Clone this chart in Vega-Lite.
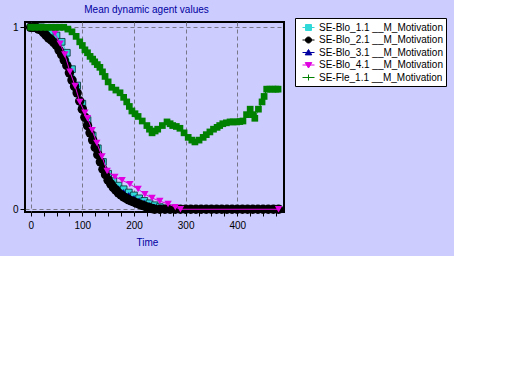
{
  "$schema": "https://vega.github.io/schema/vega-lite/v6.json",
  "autosize": "none",
  "width": 259,
  "height": 190,
  "padding": {"left": 25, "top": 22, "right": 170, "bottom": 44},
  "background": "#ccccff",
  "config": {
    "view": {"fill": "#ccccff", "stroke": "black", "strokeWidth": 2},
    "font": "Liberation Sans",
    "legend": {
      "title": null,
      "orient": "none",
      "legendX": 270,
      "legendY": -4,
      "fillColor": "white",
      "strokeColor": "black",
      "padding": 3,
      "symbolSize": 144,
      "symbolOffset": 4,
      "symbolStrokeWidth": 1,
      "labelOffset": 4,
      "labelFont": "Liberation Sans",
      "labelFontSize": 10,
      "labelColor": "black",
      "labelLimit": 200,
      "rowPadding": 0.5
    }
  },
  "title": {
    "text": "Mean dynamic agent values",
    "color": "#0000a0",
    "font": "Liberation Sans",
    "fontSize": 10,
    "fontWeight": "normal",
    "anchor": "middle",
    "dx": -8,
    "offset": 3
  },
  "data": {
    "values": [
      {"series": "SE-Blo_1.1 __M_Motivation", "t": 0, "v": 1},
      {"series": "SE-Blo_1.1 __M_Motivation", "t": 10, "v": 1},
      {"series": "SE-Blo_1.1 __M_Motivation", "t": 20, "v": 1},
      {"series": "SE-Blo_1.1 __M_Motivation", "t": 30, "v": 0.99},
      {"series": "SE-Blo_1.1 __M_Motivation", "t": 40, "v": 0.975},
      {"series": "SE-Blo_1.1 __M_Motivation", "t": 50, "v": 0.955},
      {"series": "SE-Blo_1.1 __M_Motivation", "t": 60, "v": 0.92},
      {"series": "SE-Blo_1.1 __M_Motivation", "t": 70, "v": 0.86},
      {"series": "SE-Blo_1.1 __M_Motivation", "t": 80, "v": 0.77},
      {"series": "SE-Blo_1.1 __M_Motivation", "t": 90, "v": 0.68},
      {"series": "SE-Blo_1.1 __M_Motivation", "t": 100, "v": 0.58},
      {"series": "SE-Blo_1.1 __M_Motivation", "t": 110, "v": 0.49},
      {"series": "SE-Blo_1.1 __M_Motivation", "t": 120, "v": 0.405},
      {"series": "SE-Blo_1.1 __M_Motivation", "t": 130, "v": 0.335},
      {"series": "SE-Blo_1.1 __M_Motivation", "t": 140, "v": 0.26},
      {"series": "SE-Blo_1.1 __M_Motivation", "t": 150, "v": 0.195},
      {"series": "SE-Blo_1.1 __M_Motivation", "t": 160, "v": 0.155},
      {"series": "SE-Blo_1.1 __M_Motivation", "t": 170, "v": 0.13},
      {"series": "SE-Blo_1.1 __M_Motivation", "t": 180, "v": 0.11},
      {"series": "SE-Blo_1.1 __M_Motivation", "t": 190, "v": 0.092},
      {"series": "SE-Blo_1.1 __M_Motivation", "t": 200, "v": 0.076},
      {"series": "SE-Blo_1.1 __M_Motivation", "t": 210, "v": 0.06},
      {"series": "SE-Blo_1.1 __M_Motivation", "t": 220, "v": 0.046},
      {"series": "SE-Blo_1.1 __M_Motivation", "t": 230, "v": 0.033},
      {"series": "SE-Blo_1.1 __M_Motivation", "t": 240, "v": 0.022},
      {"series": "SE-Blo_1.1 __M_Motivation", "t": 250, "v": 0.012},
      {"series": "SE-Blo_1.1 __M_Motivation", "t": 260, "v": 0.004},
      {"series": "SE-Blo_1.1 __M_Motivation", "t": 270, "v": 0},
      {"series": "SE-Blo_1.1 __M_Motivation", "t": 480, "v": 0},

      {"series": "SE-Blo_2.1 __M_Motivation", "t": 0, "v": 1},
      {"series": "SE-Blo_2.1 __M_Motivation", "t": 5, "v": 1},
      {"series": "SE-Blo_2.1 __M_Motivation", "t": 10, "v": 1},
      {"series": "SE-Blo_2.1 __M_Motivation", "t": 15, "v": 0.99},
      {"series": "SE-Blo_2.1 __M_Motivation", "t": 20, "v": 0.985},
      {"series": "SE-Blo_2.1 __M_Motivation", "t": 25, "v": 0.97},
      {"series": "SE-Blo_2.1 __M_Motivation", "t": 30, "v": 0.955},
      {"series": "SE-Blo_2.1 __M_Motivation", "t": 35, "v": 0.94},
      {"series": "SE-Blo_2.1 __M_Motivation", "t": 40, "v": 0.93},
      {"series": "SE-Blo_2.1 __M_Motivation", "t": 45, "v": 0.915},
      {"series": "SE-Blo_2.1 __M_Motivation", "t": 50, "v": 0.9},
      {"series": "SE-Blo_2.1 __M_Motivation", "t": 55, "v": 0.875},
      {"series": "SE-Blo_2.1 __M_Motivation", "t": 60, "v": 0.85},
      {"series": "SE-Blo_2.1 __M_Motivation", "t": 65, "v": 0.82},
      {"series": "SE-Blo_2.1 __M_Motivation", "t": 70, "v": 0.79},
      {"series": "SE-Blo_2.1 __M_Motivation", "t": 75, "v": 0.75},
      {"series": "SE-Blo_2.1 __M_Motivation", "t": 80, "v": 0.71},
      {"series": "SE-Blo_2.1 __M_Motivation", "t": 85, "v": 0.675},
      {"series": "SE-Blo_2.1 __M_Motivation", "t": 90, "v": 0.64},
      {"series": "SE-Blo_2.1 __M_Motivation", "t": 95, "v": 0.595},
      {"series": "SE-Blo_2.1 __M_Motivation", "t": 100, "v": 0.55},
      {"series": "SE-Blo_2.1 __M_Motivation", "t": 105, "v": 0.505},
      {"series": "SE-Blo_2.1 __M_Motivation", "t": 110, "v": 0.46},
      {"series": "SE-Blo_2.1 __M_Motivation", "t": 115, "v": 0.42},
      {"series": "SE-Blo_2.1 __M_Motivation", "t": 120, "v": 0.38},
      {"series": "SE-Blo_2.1 __M_Motivation", "t": 125, "v": 0.34},
      {"series": "SE-Blo_2.1 __M_Motivation", "t": 130, "v": 0.3},
      {"series": "SE-Blo_2.1 __M_Motivation", "t": 135, "v": 0.26},
      {"series": "SE-Blo_2.1 __M_Motivation", "t": 140, "v": 0.22},
      {"series": "SE-Blo_2.1 __M_Motivation", "t": 145, "v": 0.19},
      {"series": "SE-Blo_2.1 __M_Motivation", "t": 150, "v": 0.16},
      {"series": "SE-Blo_2.1 __M_Motivation", "t": 155, "v": 0.14},
      {"series": "SE-Blo_2.1 __M_Motivation", "t": 160, "v": 0.12},
      {"series": "SE-Blo_2.1 __M_Motivation", "t": 165, "v": 0.105},
      {"series": "SE-Blo_2.1 __M_Motivation", "t": 170, "v": 0.09},
      {"series": "SE-Blo_2.1 __M_Motivation", "t": 175, "v": 0.079},
      {"series": "SE-Blo_2.1 __M_Motivation", "t": 180, "v": 0.068},
      {"series": "SE-Blo_2.1 __M_Motivation", "t": 185, "v": 0.06},
      {"series": "SE-Blo_2.1 __M_Motivation", "t": 190, "v": 0.052},
      {"series": "SE-Blo_2.1 __M_Motivation", "t": 195, "v": 0.046},
      {"series": "SE-Blo_2.1 __M_Motivation", "t": 200, "v": 0.04},
      {"series": "SE-Blo_2.1 __M_Motivation", "t": 205, "v": 0.034},
      {"series": "SE-Blo_2.1 __M_Motivation", "t": 210, "v": 0.028},
      {"series": "SE-Blo_2.1 __M_Motivation", "t": 215, "v": 0.023},
      {"series": "SE-Blo_2.1 __M_Motivation", "t": 220, "v": 0.018},
      {"series": "SE-Blo_2.1 __M_Motivation", "t": 225, "v": 0.013},
      {"series": "SE-Blo_2.1 __M_Motivation", "t": 230, "v": 0.008},
      {"series": "SE-Blo_2.1 __M_Motivation", "t": 235, "v": 0.004},
      {"series": "SE-Blo_2.1 __M_Motivation", "t": 240, "v": 0},
      {"series": "SE-Blo_2.1 __M_Motivation", "t": 250, "v": 0},
      {"series": "SE-Blo_2.1 __M_Motivation", "t": 260, "v": 0},
      {"series": "SE-Blo_2.1 __M_Motivation", "t": 270, "v": 0},
      {"series": "SE-Blo_2.1 __M_Motivation", "t": 280, "v": 0},
      {"series": "SE-Blo_2.1 __M_Motivation", "t": 290, "v": 0},
      {"series": "SE-Blo_2.1 __M_Motivation", "t": 300, "v": 0},
      {"series": "SE-Blo_2.1 __M_Motivation", "t": 310, "v": 0},
      {"series": "SE-Blo_2.1 __M_Motivation", "t": 320, "v": 0},
      {"series": "SE-Blo_2.1 __M_Motivation", "t": 330, "v": 0},
      {"series": "SE-Blo_2.1 __M_Motivation", "t": 340, "v": 0},
      {"series": "SE-Blo_2.1 __M_Motivation", "t": 350, "v": 0},
      {"series": "SE-Blo_2.1 __M_Motivation", "t": 360, "v": 0},
      {"series": "SE-Blo_2.1 __M_Motivation", "t": 370, "v": 0},
      {"series": "SE-Blo_2.1 __M_Motivation", "t": 380, "v": 0},
      {"series": "SE-Blo_2.1 __M_Motivation", "t": 390, "v": 0},
      {"series": "SE-Blo_2.1 __M_Motivation", "t": 400, "v": 0},
      {"series": "SE-Blo_2.1 __M_Motivation", "t": 410, "v": 0},
      {"series": "SE-Blo_2.1 __M_Motivation", "t": 420, "v": 0},
      {"series": "SE-Blo_2.1 __M_Motivation", "t": 430, "v": 0},
      {"series": "SE-Blo_2.1 __M_Motivation", "t": 440, "v": 0},
      {"series": "SE-Blo_2.1 __M_Motivation", "t": 450, "v": 0},
      {"series": "SE-Blo_2.1 __M_Motivation", "t": 460, "v": 0},
      {"series": "SE-Blo_2.1 __M_Motivation", "t": 470, "v": 0},
      {"series": "SE-Blo_2.1 __M_Motivation", "t": 480, "v": 0},

      {"series": "SE-Blo_3.1 __M_Motivation", "t": 0, "v": 1},
      {"series": "SE-Blo_3.1 __M_Motivation", "t": 10, "v": 1},
      {"series": "SE-Blo_3.1 __M_Motivation", "t": 20, "v": 0.99},
      {"series": "SE-Blo_3.1 __M_Motivation", "t": 30, "v": 0.97},
      {"series": "SE-Blo_3.1 __M_Motivation", "t": 40, "v": 0.945},
      {"series": "SE-Blo_3.1 __M_Motivation", "t": 50, "v": 0.91},
      {"series": "SE-Blo_3.1 __M_Motivation", "t": 60, "v": 0.865},
      {"series": "SE-Blo_3.1 __M_Motivation", "t": 70, "v": 0.8},
      {"series": "SE-Blo_3.1 __M_Motivation", "t": 80, "v": 0.72},
      {"series": "SE-Blo_3.1 __M_Motivation", "t": 90, "v": 0.645},
      {"series": "SE-Blo_3.1 __M_Motivation", "t": 100, "v": 0.56},
      {"series": "SE-Blo_3.1 __M_Motivation", "t": 110, "v": 0.475},
      {"series": "SE-Blo_3.1 __M_Motivation", "t": 120, "v": 0.395},
      {"series": "SE-Blo_3.1 __M_Motivation", "t": 130, "v": 0.315},
      {"series": "SE-Blo_3.1 __M_Motivation", "t": 140, "v": 0.24},
      {"series": "SE-Blo_3.1 __M_Motivation", "t": 150, "v": 0.175},
      {"series": "SE-Blo_3.1 __M_Motivation", "t": 160, "v": 0.14},
      {"series": "SE-Blo_3.1 __M_Motivation", "t": 170, "v": 0.115},
      {"series": "SE-Blo_3.1 __M_Motivation", "t": 180, "v": 0.095},
      {"series": "SE-Blo_3.1 __M_Motivation", "t": 190, "v": 0.078},
      {"series": "SE-Blo_3.1 __M_Motivation", "t": 200, "v": 0.062},
      {"series": "SE-Blo_3.1 __M_Motivation", "t": 210, "v": 0.048},
      {"series": "SE-Blo_3.1 __M_Motivation", "t": 220, "v": 0.035},
      {"series": "SE-Blo_3.1 __M_Motivation", "t": 230, "v": 0.023},
      {"series": "SE-Blo_3.1 __M_Motivation", "t": 240, "v": 0.013},
      {"series": "SE-Blo_3.1 __M_Motivation", "t": 250, "v": 0.005},
      {"series": "SE-Blo_3.1 __M_Motivation", "t": 260, "v": 0},
      {"series": "SE-Blo_3.1 __M_Motivation", "t": 480, "v": 0},

      {"series": "SE-Blo_4.1 __M_Motivation", "t": 43, "v": 0.99},
      {"series": "SE-Blo_4.1 __M_Motivation", "t": 47, "v": 0.967},
      {"series": "SE-Blo_4.1 __M_Motivation", "t": 57, "v": 0.91},
      {"series": "SE-Blo_4.1 __M_Motivation", "t": 66, "v": 0.85},
      {"series": "SE-Blo_4.1 __M_Motivation", "t": 76, "v": 0.756},
      {"series": "SE-Blo_4.1 __M_Motivation", "t": 86, "v": 0.677},
      {"series": "SE-Blo_4.1 __M_Motivation", "t": 95, "v": 0.59},
      {"series": "SE-Blo_4.1 __M_Motivation", "t": 105, "v": 0.53},
      {"series": "SE-Blo_4.1 __M_Motivation", "t": 110, "v": 0.5},
      {"series": "SE-Blo_4.1 __M_Motivation", "t": 119, "v": 0.435},
      {"series": "SE-Blo_4.1 __M_Motivation", "t": 128, "v": 0.365},
      {"series": "SE-Blo_4.1 __M_Motivation", "t": 138, "v": 0.29},
      {"series": "SE-Blo_4.1 __M_Motivation", "t": 148, "v": 0.21},
      {"series": "SE-Blo_4.1 __M_Motivation", "t": 163, "v": 0.178},
      {"series": "SE-Blo_4.1 __M_Motivation", "t": 177, "v": 0.16},
      {"series": "SE-Blo_4.1 __M_Motivation", "t": 192, "v": 0.138},
      {"series": "SE-Blo_4.1 __M_Motivation", "t": 208, "v": 0.111},
      {"series": "SE-Blo_4.1 __M_Motivation", "t": 221, "v": 0.083},
      {"series": "SE-Blo_4.1 __M_Motivation", "t": 235, "v": 0.062},
      {"series": "SE-Blo_4.1 __M_Motivation", "t": 250, "v": 0.045},
      {"series": "SE-Blo_4.1 __M_Motivation", "t": 266, "v": 0.029},
      {"series": "SE-Blo_4.1 __M_Motivation", "t": 280, "v": 0.012},
      {"series": "SE-Blo_4.1 __M_Motivation", "t": 290, "v": 0},
      {"series": "SE-Blo_4.1 __M_Motivation", "t": 480, "v": 0},

      {"series": "SE-Fle_1.1 __M_Motivation", "t": 0, "v": 1},
      {"series": "SE-Fle_1.1 __M_Motivation", "t": 8, "v": 1},
      {"series": "SE-Fle_1.1 __M_Motivation", "t": 16, "v": 1},
      {"series": "SE-Fle_1.1 __M_Motivation", "t": 24, "v": 1},
      {"series": "SE-Fle_1.1 __M_Motivation", "t": 32, "v": 1},
      {"series": "SE-Fle_1.1 __M_Motivation", "t": 40, "v": 1},
      {"series": "SE-Fle_1.1 __M_Motivation", "t": 48, "v": 1},
      {"series": "SE-Fle_1.1 __M_Motivation", "t": 56, "v": 1},
      {"series": "SE-Fle_1.1 __M_Motivation", "t": 64, "v": 1},
      {"series": "SE-Fle_1.1 __M_Motivation", "t": 72, "v": 0.99},
      {"series": "SE-Fle_1.1 __M_Motivation", "t": 80, "v": 0.975},
      {"series": "SE-Fle_1.1 __M_Motivation", "t": 88, "v": 0.95},
      {"series": "SE-Fle_1.1 __M_Motivation", "t": 95, "v": 0.92},
      {"series": "SE-Fle_1.1 __M_Motivation", "t": 100, "v": 0.9},
      {"series": "SE-Fle_1.1 __M_Motivation", "t": 105, "v": 0.876},
      {"series": "SE-Fle_1.1 __M_Motivation", "t": 110, "v": 0.86},
      {"series": "SE-Fle_1.1 __M_Motivation", "t": 115, "v": 0.84},
      {"series": "SE-Fle_1.1 __M_Motivation", "t": 120, "v": 0.825},
      {"series": "SE-Fle_1.1 __M_Motivation", "t": 124, "v": 0.81},
      {"series": "SE-Fle_1.1 __M_Motivation", "t": 129, "v": 0.795},
      {"series": "SE-Fle_1.1 __M_Motivation", "t": 134, "v": 0.78},
      {"series": "SE-Fle_1.1 __M_Motivation", "t": 139, "v": 0.755},
      {"series": "SE-Fle_1.1 __M_Motivation", "t": 144, "v": 0.73},
      {"series": "SE-Fle_1.1 __M_Motivation", "t": 150, "v": 0.7},
      {"series": "SE-Fle_1.1 __M_Motivation", "t": 157, "v": 0.67},
      {"series": "SE-Fle_1.1 __M_Motivation", "t": 165, "v": 0.655},
      {"series": "SE-Fle_1.1 __M_Motivation", "t": 173, "v": 0.64},
      {"series": "SE-Fle_1.1 __M_Motivation", "t": 180, "v": 0.615},
      {"series": "SE-Fle_1.1 __M_Motivation", "t": 186, "v": 0.59},
      {"series": "SE-Fle_1.1 __M_Motivation", "t": 191, "v": 0.565},
      {"series": "SE-Fle_1.1 __M_Motivation", "t": 196, "v": 0.54},
      {"series": "SE-Fle_1.1 __M_Motivation", "t": 202, "v": 0.525},
      {"series": "SE-Fle_1.1 __M_Motivation", "t": 208, "v": 0.51},
      {"series": "SE-Fle_1.1 __M_Motivation", "t": 216, "v": 0.485},
      {"series": "SE-Fle_1.1 __M_Motivation", "t": 225, "v": 0.46},
      {"series": "SE-Fle_1.1 __M_Motivation", "t": 230, "v": 0.44},
      {"series": "SE-Fle_1.1 __M_Motivation", "t": 235, "v": 0.42},
      {"series": "SE-Fle_1.1 __M_Motivation", "t": 241, "v": 0.43},
      {"series": "SE-Fle_1.1 __M_Motivation", "t": 246, "v": 0.44},
      {"series": "SE-Fle_1.1 __M_Motivation", "t": 255, "v": 0.46},
      {"series": "SE-Fle_1.1 __M_Motivation", "t": 264, "v": 0.48},
      {"series": "SE-Fle_1.1 __M_Motivation", "t": 270, "v": 0.47},
      {"series": "SE-Fle_1.1 __M_Motivation", "t": 275, "v": 0.46},
      {"series": "SE-Fle_1.1 __M_Motivation", "t": 282, "v": 0.455},
      {"series": "SE-Fle_1.1 __M_Motivation", "t": 289, "v": 0.445},
      {"series": "SE-Fle_1.1 __M_Motivation", "t": 297, "v": 0.42},
      {"series": "SE-Fle_1.1 __M_Motivation", "t": 305, "v": 0.395},
      {"series": "SE-Fle_1.1 __M_Motivation", "t": 312, "v": 0.38},
      {"series": "SE-Fle_1.1 __M_Motivation", "t": 318, "v": 0.37},
      {"series": "SE-Fle_1.1 __M_Motivation", "t": 326, "v": 0.38},
      {"series": "SE-Fle_1.1 __M_Motivation", "t": 334, "v": 0.395},
      {"series": "SE-Fle_1.1 __M_Motivation", "t": 340, "v": 0.41},
      {"series": "SE-Fle_1.1 __M_Motivation", "t": 347, "v": 0.425},
      {"series": "SE-Fle_1.1 __M_Motivation", "t": 354, "v": 0.44},
      {"series": "SE-Fle_1.1 __M_Motivation", "t": 361, "v": 0.45},
      {"series": "SE-Fle_1.1 __M_Motivation", "t": 366, "v": 0.46},
      {"series": "SE-Fle_1.1 __M_Motivation", "t": 372, "v": 0.47},
      {"series": "SE-Fle_1.1 __M_Motivation", "t": 379, "v": 0.475},
      {"series": "SE-Fle_1.1 __M_Motivation", "t": 386, "v": 0.48},
      {"series": "SE-Fle_1.1 __M_Motivation", "t": 392, "v": 0.48},
      {"series": "SE-Fle_1.1 __M_Motivation", "t": 399, "v": 0.48},
      {"series": "SE-Fle_1.1 __M_Motivation", "t": 405, "v": 0.482},
      {"series": "SE-Fle_1.1 __M_Motivation", "t": 411, "v": 0.485},
      {"series": "SE-Fle_1.1 __M_Motivation", "t": 418, "v": 0.52},
      {"series": "SE-Fle_1.1 __M_Motivation", "t": 425, "v": 0.55},
      {"series": "SE-Fle_1.1 __M_Motivation", "t": 430, "v": 0.52},
      {"series": "SE-Fle_1.1 __M_Motivation", "t": 434, "v": 0.5},
      {"series": "SE-Fle_1.1 __M_Motivation", "t": 441, "v": 0.55},
      {"series": "SE-Fle_1.1 __M_Motivation", "t": 448, "v": 0.59},
      {"series": "SE-Fle_1.1 __M_Motivation", "t": 452, "v": 0.62},
      {"series": "SE-Fle_1.1 __M_Motivation", "t": 457, "v": 0.66},
      {"series": "SE-Fle_1.1 __M_Motivation", "t": 463, "v": 0.66},
      {"series": "SE-Fle_1.1 __M_Motivation", "t": 469, "v": 0.66},
      {"series": "SE-Fle_1.1 __M_Motivation", "t": 475, "v": 0.66},
      {"series": "SE-Fle_1.1 __M_Motivation", "t": 479, "v": 0.66}
    ]
  },
  "encoding": {
    "x": {
      "field": "t",
      "type": "quantitative",
      "scale": {"domain": [-11, 490.5], "nice": false, "zero": false},
      "axis": {
        "title": "Time",
        "values": [0, 25, 50, 75, 100, 125, 150, 175, 200, 225, 250, 275, 300, 325, 350, 375, 400, 425, 450, 475],
        "labelExpr": "datum.value % 100 === 0 ? datum.label : ''",
        "grid": true,
        "gridColor": "#777788",
        "gridDash": [4, 3],
        "gridWidth": 1,
        "gridOpacity": {"condition": {"test": "datum.value % 100 !== 0", "value": 0}, "value": 1},
        "domain": false,
        "ticks": true,
        "tickColor": "black",
        "tickSize": 4,
        "labelFont": "Liberation Sans",
        "labelFontSize": 10,
        "labelColor": "black",
        "labelPadding": 4,
        "titleFont": "Liberation Sans",
        "titleFontSize": 10,
        "titleFontWeight": "normal",
        "titleColor": "#0000a0",
        "titleAlign": "center",
        "titleX": 122,
        "titleY": 25
      }
    },
    "y": {
      "field": "v",
      "type": "quantitative",
      "scale": {"domain": [-0.015, 1.029], "nice": false, "zero": false},
      "axis": {
        "title": null,
        "values": [0, 1],
        "format": "d",
        "grid": true,
        "gridColor": "#777788",
        "gridDash": [4, 3],
        "domain": false,
        "ticks": true,
        "tickColor": "black",
        "tickSize": 5,
        "labelFont": "Liberation Sans",
        "labelFontSize": 10,
        "labelColor": "black",
        "labelPadding": 2
      }
    }
  },
  "layer": [
    {
      "transform": [{"filter": "datum.series === 'SE-Blo_1.1 __M_Motivation'"}],
      "mark": {"type": "line", "color": "#30d8d8", "strokeWidth": 1,
        "point": {"shape": "square", "filled": true, "fill": "#30d8d8", "stroke": "#003030", "strokeWidth": 0.8, "size": 45, "opacity": 1}}
    },
    {
      "transform": [{"filter": "datum.series === 'SE-Blo_3.1 __M_Motivation'"}],
      "mark": {"type": "line", "color": "#0000a0", "strokeWidth": 1,
        "point": {"shape": "triangle-up", "filled": true, "fill": "#0000a0", "size": 50, "opacity": 1}}
    },
    {
      "transform": [{"filter": "datum.series === 'SE-Blo_2.1 __M_Motivation'"}],
      "mark": {"type": "line", "color": "#000000", "strokeWidth": 1,
        "point": {"shape": "circle", "filled": true, "fill": "#000000", "size": 90, "opacity": 1}}
    },
    {
      "transform": [{"filter": "datum.series === 'SE-Blo_4.1 __M_Motivation'"}],
      "mark": {"type": "line", "color": "#e000e0", "strokeWidth": 1,
        "point": {"shape": "triangle-down", "filled": true, "fill": "#e000e0", "size": 55, "opacity": 1}}
    },
    {
      "transform": [{"filter": "datum.series === 'SE-Fle_1.1 __M_Motivation'"}],
      "mark": {"type": "line", "color": "#008000", "strokeWidth": 1,
        "point": {"shape": "square", "filled": true, "fill": "#008000", "size": 45, "opacity": 1}}
    },
    {
      "transform": [{"filter": "datum.t < 0"}],
      "mark": {"type": "point", "filled": true, "opacity": 1, "strokeWidth": 1},
      "encoding": {
        "color": {
          "field": "series",
          "type": "nominal",
          "scale": {
            "domain": ["SE-Blo_1.1 __M_Motivation", "SE-Blo_2.1 __M_Motivation", "SE-Blo_3.1 __M_Motivation", "SE-Blo_4.1 __M_Motivation", "SE-Fle_1.1 __M_Motivation"],
            "range": ["#30d8d8", "#000000", "#0000a0", "#e000e0", "#008000"]
          }
        },
        "stroke": {
          "field": "series",
          "type": "nominal",
          "scale": {
            "domain": ["SE-Blo_1.1 __M_Motivation", "SE-Blo_2.1 __M_Motivation", "SE-Blo_3.1 __M_Motivation", "SE-Blo_4.1 __M_Motivation", "SE-Fle_1.1 __M_Motivation"],
            "range": ["#30d8d8", "#000000", "#0000a0", "#e000e0", "#008000"]
          }
        },
        "shape": {
          "field": "series",
          "type": "nominal",
          "scale": {
            "domain": ["SE-Blo_1.1 __M_Motivation", "SE-Blo_2.1 __M_Motivation", "SE-Blo_3.1 __M_Motivation", "SE-Blo_4.1 __M_Motivation", "SE-Fle_1.1 __M_Motivation"],
            "range": [
              "M-1,0H1M-0.5,-0.5H0.5V0.5H-0.5Z",
              "M-1,0H1M-0.5,0A0.5,0.5 0 1,1 0.5,0A0.5,0.5 0 1,1 -0.5,0Z",
              "M-1,0H1M0,-0.5L0.55,0.4H-0.55Z",
              "M-1,0H1M-0.55,-0.4H0.55L0,0.5Z",
              "M-1,0H1M0,-0.5V0.5"
            ]
          }
        }
      }
    }
  ]
}
